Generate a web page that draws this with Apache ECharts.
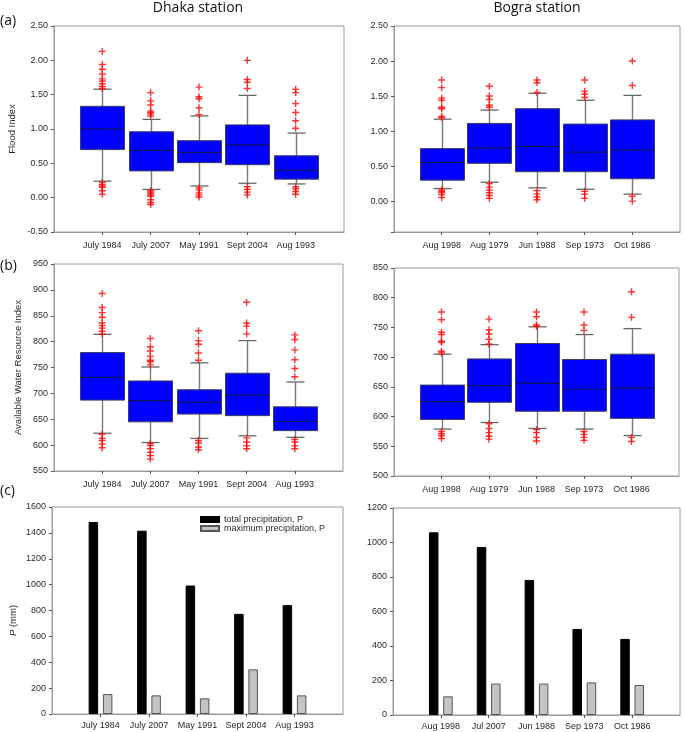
<!DOCTYPE html>
<html>
<head>
<meta charset="utf-8">
<script src="https://cdn.jsdelivr.net/npm/echarts@6/dist/echarts.min.js"></script>
<style>html,body{margin:0;padding:0;background:#fff}#c{width:685px;height:732px}</style>
</head>
<body>
<div id="c"></div>
<script>
// ---------- DATA ----------
const dhakaCats = ['July 1984', 'July 2007', 'May 1991', 'Sept 2004', 'Aug 1993'];
const bograCats = ['Aug 1998', 'Aug 1979', 'Jun 1988', 'Sep 1973', 'Oct 1986'];
const bograCatsP = ['Aug 1998', 'Jul 2007', 'Jun 1988', 'Sep 1973', 'Oct 1986'];

// [lower whisker, Q1, median, Q3, upper whisker]
const dhakaFloodBox = [
  [0.24, 0.70, 1.00, 1.33, 1.58],
  [0.12, 0.39, 0.69, 0.96, 1.14],
  [0.17, 0.51, 0.66, 0.83, 1.19],
  [0.21, 0.48, 0.77, 1.06, 1.49],
  [0.20, 0.27, 0.40, 0.61, 0.94]
];
const dhakaFloodOut = [
  [2.13, 1.94, 1.87, 1.80, 1.73, 1.70, 1.66, 1.62, 1.59, 0.22, 0.19, 0.17, 0.15, 0.10, 0.05],
  [1.53, 1.41, 1.35, 1.26, 1.24, 1.22, 1.19, 0.10, 0.08, 0.06, 0.04, 0.02, -0.03, -0.07, -0.10],
  [1.61, 1.47, 1.44, 1.31, 1.21, 0.14, 0.11, 0.07, 0.04, 0.01],
  [2.00, 1.72, 1.68, 1.59, 0.16, 0.12, 0.08, 0.04],
  [1.58, 1.53, 1.37, 1.24, 1.12, 1.01, 0.16, 0.13, 0.09, 0.05]
];
const bograFloodBox = [
  [0.18, 0.30, 0.55, 0.75, 1.17],
  [0.27, 0.54, 0.76, 1.11, 1.30],
  [0.19, 0.42, 0.78, 1.32, 1.54],
  [0.17, 0.42, 0.70, 1.10, 1.44],
  [0.10, 0.32, 0.73, 1.16, 1.51]
];
const bograFloodOut = [
  [1.73, 1.62, 1.47, 1.44, 1.34, 1.32, 1.21, 1.19, 0.16, 0.14, 0.12, 0.09, 0.05],
  [1.64, 1.50, 1.45, 1.37, 1.34, 0.25, 0.20, 0.16, 0.12, 0.08, 0.04],
  [1.73, 1.69, 1.55, 0.15, 0.10, 0.06, 0.02],
  [1.73, 1.57, 1.53, 1.48, 0.14, 0.10, 0.04],
  [2.00, 1.65, 0.07, 0.00]
];
const dhakaAwriBox = [
  [623, 687, 731, 779, 814],
  [605, 645, 686, 724, 751],
  [613, 660, 683, 707, 759],
  [618, 657, 697, 739, 802],
  [615, 628, 646, 674, 722]
];
const dhakaAwriOut = [
  [893, 866, 856, 847, 836, 831, 826, 820, 815, 621, 613, 609, 602, 595],
  [806, 790, 782, 772, 764, 761, 755, 603, 599, 593, 586, 580, 573],
  [821, 802, 795, 778, 764, 609, 604, 596, 591],
  [876, 836, 830, 815, 614, 606, 599, 593],
  [813, 804, 784, 765, 748, 732, 611, 606, 599, 593]
];
const bograAwriBox = [
  [579, 595, 625, 653, 705],
  [590, 624, 652, 697, 721],
  [580, 609, 656, 723, 751],
  [579, 609, 646, 696, 738],
  [568, 597, 648, 705, 748]
];
const bograAwriOut = [
  [776, 763, 742, 738, 727, 725, 710, 707, 575, 571, 568, 563],
  [764, 746, 739, 730, 722, 588, 580, 573, 567, 562],
  [776, 768, 754, 752, 578, 573, 565, 559],
  [776, 754, 745, 575, 570, 565, 560],
  [810, 767, 565, 558]
];
const dhakaTotalP = [1484, 1417, 993, 774, 841];
const dhakaMaxP = [154, 144, 121, 345, 144];
const bograTotalP = [1059, 974, 783, 499, 441];
const bograMaxP = [108, 182, 182, 189, 174];

const floodDhakaAxis = { min: -0.5, max: 2.5, interval: 0.5 };
const floodBograAxis = { min: -0.44, max: 2.5 };
const awriDhakaAxis = { min: 550, max: 950, interval: 50 };
const awriBograAxis = { min: 500, max: 850, interval: 50 };
const pDhakaAxis = { min: 0, max: 1600, interval: 200 };
const pBograAxis = { min: 0, max: 1200, interval: 200 };

// ---------- STYLE / LAYOUT ----------
const FONT = 'Liberation Sans';
const LABEL_COLOR = '#2a2a2a';
const AXIS_COLOR = '#9a9a9a';

const grids = [
  { left: 54, right: 341, top: 26, height: 206 },
  { left: 394, right: 5, top: 26, height: 206 },
  { left: 54, right: 342, top: 264, height: 207 },
  { left: 394, right: 6, top: 268, height: 208 },
  { left: 52, right: 342, top: 507, height: 207 },
  { left: 393, right: 5, top: 508, height: 207 }
].map(g => Object.assign(g, { show: true, borderColor: AXIS_COLOR, borderWidth: 1, backgroundColor: 'transparent' }));

function pad(cats) { return [''].concat(cats, ['']); }

function makeX(gi, cats, margin) {
  return {
    type: 'category', gridIndex: gi, data: pad(cats), boundaryGap: false,
    axisLine: { onZero: false, lineStyle: { color: AXIS_COLOR } },
    axisTick: { show: true, length: 3, interval: (i) => i > 0 && i < cats.length + 1, lineStyle: { color: '#555' } },
    axisLabel: { interval: 0, fontFamily: FONT, fontSize: 9, color: LABEL_COLOR, margin: margin },
    splitLine: { show: false }
  };
}
function makeY(gi, t, fmt, name, nameGap, namePad) {
  const a = {
    type: 'value', gridIndex: gi, min: t.min, max: t.max,
    axisLine: { show: true, onZero: false, lineStyle: { color: AXIS_COLOR } },
    axisTick: { show: true, length: 3, lineStyle: { color: '#555' } },
    axisLabel: { fontFamily: FONT, fontSize: 9, color: LABEL_COLOR, margin: 6, formatter: fmt },
    splitLine: { show: false }
  };
  if (t.interval) a.interval = t.interval;
  if (name) {
    a.name = name;
    a.nameLocation = 'middle';
    a.nameGap = nameGap;
    a.nameRotate = 90;
    a.nameTextStyle = {
      fontFamily: FONT, fontSize: 9.5, color: LABEL_COLOR, padding: namePad || 0,
      rich: { i: { fontFamily: FONT, fontSize: 9.5, fontStyle: 'italic', color: LABEL_COLOR } }
    };
  }
  return a;
}

const fmt2 = v => (v < -0.001 && v > -0.49) ? '' : v.toFixed(2);
const fmt0 = v => String(Math.round(v));

const BOX_W = 44, CAP_W = 18;
function boxSeries(gi, boxes) {
  return {
    type: 'custom', xAxisIndex: gi, yAxisIndex: gi, z: 2,
    encode: { x: 0, y: [1, 2, 3, 4, 5] },
    data: boxes.map((b, i) => [i + 1].concat(b)),
    renderItem: function (params, api) {
      const x = api.value(0);
      const lo = api.coord([x, api.value(1)]);
      const q1 = api.coord([x, api.value(2)]);
      const md = api.coord([x, api.value(3)]);
      const q3 = api.coord([x, api.value(4)]);
      const hi = api.coord([x, api.value(5)]);
      const cx = Math.round(lo[0]) + 0.5;
      const hw = BOX_W / 2, cw = CAP_W / 2;
      return {
        type: 'group',
        children: [
          { type: 'line', shape: { x1: cx, y1: hi[1], x2: cx, y2: lo[1] }, style: { stroke: '#7a7a7a', lineWidth: 1.4 } },
          { type: 'line', shape: { x1: cx - cw, y1: hi[1], x2: cx + cw, y2: hi[1] }, style: { stroke: '#666', lineWidth: 1.3 } },
          { type: 'line', shape: { x1: cx - cw, y1: lo[1], x2: cx + cw, y2: lo[1] }, style: { stroke: '#666', lineWidth: 1.3 } },
          { type: 'rect', shape: { x: cx - hw, y: q3[1], width: BOX_W, height: q1[1] - q3[1] }, style: { fill: '#0000ff', stroke: '#3c3c66', lineWidth: 1 } },
          { type: 'line', shape: { x1: cx - hw, y1: md[1], x2: cx + hw, y2: md[1] }, style: { stroke: '#141438', lineWidth: 1 } }
        ]
      };
    }
  };
}
const CROSS = 'path://M4,0 L6,0 L6,4 L10,4 L10,6 L6,6 L6,10 L4,10 L4,6 L0,6 L0,4 L4,4 Z';
function outSeries(gi, outs) {
  const d = [];
  outs.forEach((arr, i) => arr.forEach(v => d.push([i + 1, v])));
  return {
    type: 'scatter', xAxisIndex: gi, yAxisIndex: gi, z: 3,
    symbol: CROSS, symbolSize: 7, itemStyle: { color: '#ff0000' },
    data: d
  };
}
function barSeries(gi, name, vals, color, border) {
  return {
    type: 'bar', name: name, xAxisIndex: gi, yAxisIndex: gi,
    barWidth: 9.5, barGap: '50%',
    itemStyle: { color: color, borderColor: border, borderWidth: border ? 1 : 0 },
    data: vals.map((v, i) => [i + 1, v])
  };
}

const TOTAL = 'total precipitation, P';
const MAXP = 'maximum precipitation, P';

const textEl = (x, y, text, size, align) => ({
  type: 'text', x: x, y: y,
  style: { text: text, fontFamily: 'Open Sans', fontSize: size, fill: '#111', textAlign: align || 'center', textVerticalAlign: 'middle' }
});

const option = {
  animation: false,
  backgroundColor: '#fff',
  grid: grids,
  xAxis: [
    makeX(0, dhakaCats, 9), makeX(1, bograCats, 9),
    makeX(2, dhakaCats, 9), makeX(3, bograCats, 9),
    makeX(4, dhakaCats, 7), makeX(5, bograCatsP, 7)
  ],
  yAxis: [
    makeY(0, floodDhakaAxis, fmt2, 'Flood Index', 37),
    makeY(1, floodBograAxis, fmt2),
    makeY(2, awriDhakaAxis, fmt0, 'Available Water Resource Index', 31),
    makeY(3, awriBograAxis, fmt0),
    makeY(4, pDhakaAxis, fmt0, '{i|P} (mm)', 34, [0, 20, 0, 0]),
    makeY(5, pBograAxis, fmt0)
  ],
  legend: {
    left: 200, top: 515, padding: 0, orient: 'vertical', itemWidth: 18, itemHeight: 5, itemGap: 0,
    icon: 'rect', selectedMode: false,
    textStyle: { fontFamily: FONT, fontSize: 9, color: LABEL_COLOR, lineHeight: 9 },
    data: [TOTAL, MAXP]
  },
  series: [
    boxSeries(0, dhakaFloodBox), outSeries(0, dhakaFloodOut),
    boxSeries(1, bograFloodBox), outSeries(1, bograFloodOut),
    boxSeries(2, dhakaAwriBox), outSeries(2, dhakaAwriOut),
    boxSeries(3, bograAwriBox), outSeries(3, bograAwriOut),
    barSeries(4, TOTAL, dhakaTotalP, '#000000', '#000000'),
    barSeries(4, MAXP, dhakaMaxP, '#c4c4c4', '#555555'),
    barSeries(5, TOTAL, bograTotalP, '#000000', '#000000'),
    barSeries(5, MAXP, bograMaxP, '#c4c4c4', '#555555')
  ],
  graphic: [
    textEl(198, 8, 'Dhaka station', 14),
    textEl(537, 8, 'Bogra station', 14),
    textEl(0, 21, '(a)', 14, 'left'),
    textEl(0, 266, '(b)', 14, 'left'),
    textEl(0, 491, '(c)', 14, 'left')
  ]
};

const chart = echarts.init(document.getElementById('c'), null, { renderer: 'canvas' });
chart.setOption(option);
</script>
</body>
</html>
